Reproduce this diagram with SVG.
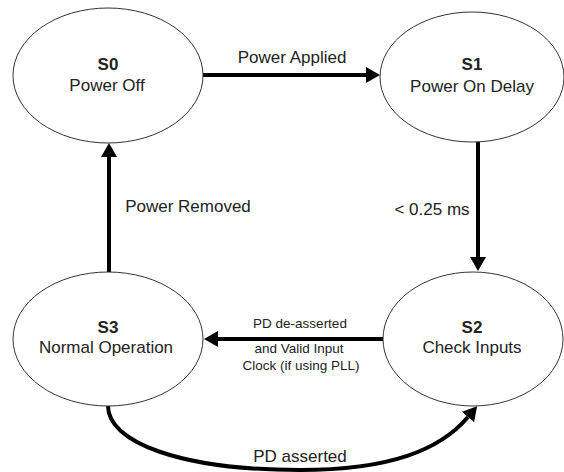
<svg xmlns="http://www.w3.org/2000/svg" width="564" height="472" viewBox="0 0 564 472">
<defs>
<style>
.node ellipse{fill:#fff;stroke:#333;stroke-width:1}
text{font-family:"Liberation Sans",Arial,sans-serif;fill:#222;text-anchor:middle}
.t{font-size:17px}
.b{font-size:17px;font-weight:bold}
.s{font-size:13.5px}
.edge{fill:none;stroke:#000;stroke-width:4}
</style>
<marker id="ah" markerUnits="userSpaceOnUse" viewBox="0 0 14 16" refX="0" refY="8" markerWidth="14" markerHeight="16" orient="auto">
<path d="M0,0 L14,8 L0,16 z" fill="#000"/>
</marker>
</defs>
<rect width="564" height="472" fill="#fff"/>
<g id="connectors">
<line class="edge" x1="203" y1="75" x2="366" y2="75" marker-end="url(#ah)"/>
<line class="edge" x1="478" y1="142" x2="478" y2="257" marker-end="url(#ah)"/>
<line class="edge" x1="383" y1="339" x2="218" y2="339" marker-end="url(#ah)"/>
<line class="edge" x1="109" y1="272" x2="109" y2="157" marker-end="url(#ah)"/>
<path class="edge" d="M108,406 C108,442 180,470 300,470 C390,470 440,450 468,417" marker-end="url(#ah)"/>
<text class="t" x="292" y="63">Power Applied</text>
<text class="t" x="432" y="215">&lt; 0.25 ms</text>
<text class="t" x="188" y="212">Power Removed</text>
<text class="s" x="300" y="328">PD de-asserted</text>
<text class="s" x="299" y="353">and Valid Input</text>
<text class="s" x="301" y="370">Clock (if using PLL)</text>
<text class="t" x="300" y="462">PD asserted</text>
</g>
<g id="S0" class="node">
<ellipse cx="108" cy="75.5" rx="95" ry="67.5"/>
<text class="b" x="108" y="70">S0</text>
<text class="t" x="107" y="91">Power Off</text>
</g>
<g id="S1" class="node">
<ellipse cx="472" cy="77" rx="92" ry="65"/>
<text class="b" x="472" y="70">S1</text>
<text class="t" x="472" y="92">Power On Delay</text>
</g>
<g id="S2" class="node">
<ellipse cx="473" cy="339" rx="90" ry="67"/>
<text class="b" x="472" y="333">S2</text>
<text class="t" x="472" y="353">Check Inputs</text>
</g>
<g id="S3" class="node">
<ellipse cx="108" cy="339" rx="95" ry="67"/>
<text class="b" x="108" y="333">S3</text>
<text class="t" x="106" y="353">Normal Operation</text>
</g>
</svg>
